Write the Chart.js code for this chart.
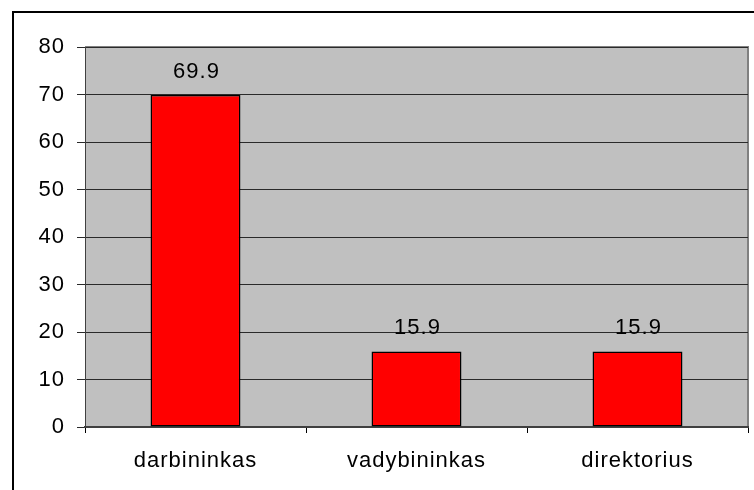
<!DOCTYPE html>
<html>
<head>
<meta charset="utf-8">
<script src="https://cdn.jsdelivr.net/npm/chart.js@4/dist/chart.umd.min.js"></script>
<style>
  html, body { margin: 0; padding: 0; background: #fff; }
  canvas { display: block; }
</style>
</head>
<body>
<canvas id="chart" width="754" height="490"></canvas>
<script>
// duomenys
const categories = ['darbininkas', 'vadybininkas', 'direktorius'];
const values = [69.9, 15.9, 15.9];
const yTicks = [0, 10, 20, 30, 40, 50, 60, 70, 80];

const FONT = 'Liberation Sans, Arial, sans-serif';
const FSIZE = 22;
const SPACING = '1px';

// šiek tiek platesnis raidžių tarpas (kaip originale)
const spacing = {
  id: 'spacing',
  beforeUpdate(chart) { chart.ctx.letterSpacing = SPACING; },
  beforeDraw(chart) { chart.ctx.letterSpacing = SPACING; }
};

// pilkas fonas + rėmelis
const plotBg = {
  id: 'plotBg',
  beforeDraw(chart) {
    const { ctx, chartArea: a } = chart;
    ctx.save();
    ctx.fillStyle = '#C0C0C0';
    ctx.fillRect(a.left, a.top, a.right - a.left, a.bottom - a.top);
    ctx.strokeStyle = '#808080';
    ctx.lineWidth = 2;
    ctx.beginPath();
    ctx.moveTo(a.left, a.top);
    ctx.lineTo(a.right, a.top);
    ctx.lineTo(a.right, a.bottom);
    ctx.stroke();
    // išorinis rėmas
    ctx.strokeStyle = '#000';
    ctx.lineWidth = 2;
    ctx.strokeRect(13, 12, 800, 600);
    ctx.restore();
  }
};

// reikšmės virš stulpelių
const valueLabels = {
  id: 'valueLabels',
  afterDatasetsDraw(chart) {
    const { ctx } = chart;
    const meta = chart.getDatasetMeta(0);
    ctx.save();
    ctx.font = FSIZE + 'px ' + FONT;
    ctx.fillStyle = '#000';
    ctx.textAlign = 'center';
    ctx.textBaseline = 'alphabetic';
    meta.data.forEach((bar, i) => {
      ctx.fillText(values[i].toFixed(1), bar.x + 1, bar.y - 17);
    });
    ctx.restore();
  }
};

new Chart(document.getElementById('chart'), {
  type: 'bar',
  data: {
    labels: categories,
    datasets: [{
      data: values,
      backgroundColor: '#FF0000',
      borderColor: '#000',
      borderWidth: 1.5,
      borderSkipped: false,
      categoryPercentage: 1,
      barPercentage: 0.407
    }]
  },
  options: {
    responsive: false,
    animation: false,
    devicePixelRatio: 1,
    layout: { padding: { left: 0, top: 47, right: 6, bottom: 0 } },
    plugins: { legend: { display: false }, tooltip: { enabled: false } },
    scales: {
      x: {
        afterFit(scale) { scale.height = 63; },
        grid: { offset: true, drawOnChartArea: false, tickLength: 6, color: '#000', lineWidth: 1 },
        border: { color: '#404040', width: 2 },
        ticks: { color: '#000', font: { family: FONT, size: FSIZE }, padding: 15, maxRotation: 0 }
      },
      y: {
        min: 0,
        max: 80,
        afterFit(scale) { scale.width = 85; },
        afterBuildTicks(scale) { scale.ticks = yTicks.map(v => ({ value: v })); },
        grid: { color: '#2a2a2a', lineWidth: 1, tickLength: 8 },
        border: { color: '#404040', width: 1 },
        ticks: { color: '#000', font: { family: FONT, size: FSIZE }, padding: 12 }
      }
    }
  },
  plugins: [spacing, plotBg, valueLabels]
});
</script>
</body>
</html>
